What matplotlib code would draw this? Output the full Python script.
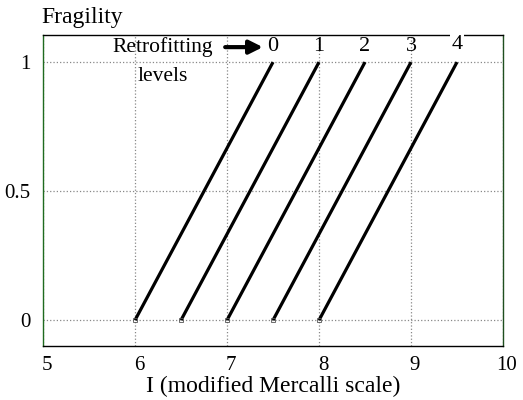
import matplotlib.pyplot as plt
import matplotlib.transforms as mtransforms

plt.rcParams["font.family"] = ["Liberation Serif", "DejaVu Serif"]

# retrofitting levels: fragility rises linearly from 0 to 1
levels = ["0", "1", "2", "3", "4"]
i_start = [6.0, 6.5, 7.0, 7.5, 8.0]
i_end = [7.5, 8.0, 8.5, 9.0, 9.5]
frag_start = 0.0
frag_end = 1.0

xticks = [5, 6, 7, 8, 9, 10]
yticks = [0, 0.5, 1]
yticklabels = ["0", "0.5", "1"]

fig = plt.figure(figsize=(5.23, 4.0), dpi=100)
ax = fig.add_axes([0.0822, 0.135, 0.8796, 0.7775])

for lab, x0, x1 in zip(levels, i_start, i_end):
    ax.plot([x0, x1], [frag_start, frag_end], color="black", lw=2.3,
            solid_capstyle="butt", zorder=3)
    ax.plot([x0], [frag_start], marker="s", ms=3, mfc="none",
            mec="#555555", mew=0.6, zorder=4)
    ax.text(x1, 1.06 if lab != "4" else 1.068, lab, ha="center", va="center",
            fontsize=16, zorder=5, clip_on=False,
            bbox=dict(facecolor="white", edgecolor="none", pad=1) if lab == "4" else None)

ax.text(6.3, 1.058, "Retrofitting", ha="center", va="center", fontsize=15.5)
ax.text(6.3, 0.945, "levels", ha="center", va="center", fontsize=15.5)
ax.annotate("", xy=(7.42, 1.058), xytext=(6.95, 1.058),
            arrowprops=dict(arrowstyle="-|>,head_length=0.8,head_width=0.4",
                            color="black", lw=3))

ax.set_xlim(5, 10)
ax.set_ylim(-0.1, 1.105)
ax.set_xticks(xticks)
ax.set_yticks(yticks)
ax.set_yticklabels(yticklabels)
ax.tick_params(length=0, labelsize=15, pad=7)
ax.tick_params(axis="y", pad=9)
shift = mtransforms.ScaledTranslation(4 / 100, 0, fig.dpi_scale_trans)
for t in ax.get_xticklabels():
    t.set_transform(t.get_transform() + shift)
ax.grid(True, color="#888888", linestyle=":", lw=0.9)
ax.set_axisbelow(True)

ax.spines["left"].set_color("#1f6b1f")
ax.spines["right"].set_color("#1f4f1f")
for s in ax.spines.values():
    s.set_linewidth(1.0)

ax.set_xlabel("I (modified Mercalli scale)", fontsize=17, labelpad=1)
fig.text(0.08, 0.93, "Fragility", fontsize=17, ha="left", va="bottom")

fig.savefig("out.png", dpi=100)
